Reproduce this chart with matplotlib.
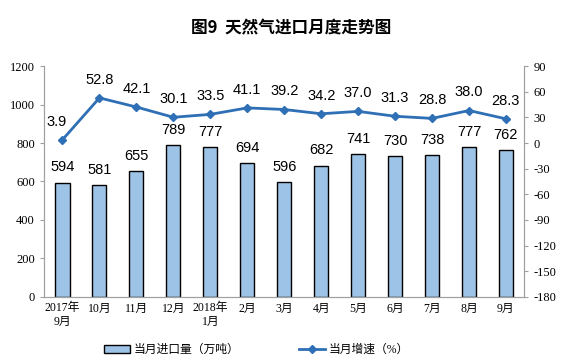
import matplotlib.pyplot as plt
import numpy as np

plt.rcParams['font.family'] = ['Liberation Serif', 'Noto Sans CJK SC', 'DejaVu Sans']
plt.rcParams['axes.unicode_minus'] = False

months = ['2017年\n9月', '10月', '11月', '12月', '2018年\n1月', '2月', '3月',
          '4月', '5月', '6月', '7月', '8月', '9月']
imports = [594, 581, 655, 789, 777, 694, 596, 682, 741, 730, 738, 777, 762]
growth = [3.9, 52.8, 42.1, 30.1, 33.5, 41.1, 39.2, 34.2, 37.0, 31.3, 28.8, 38.0, 28.3]

bar_col = '#9dc3e6'
line_col = '#2e6fb5'
spine_col = '#a0a0a0'
lab_font = ['Liberation Sans', 'Noto Sans CJK SC']

fig = plt.figure(figsize=(5.83, 3.63), dpi=100)
ax = fig.add_axes([0.0755, 0.182, 0.824, 0.636])
ax2 = ax.twinx()

x = np.arange(len(months))
bars = ax.bar(x, imports, width=0.38, color=bar_col, edgecolor='black', lw=1.0, zorder=2)
for xi, v in zip(x, imports):
    ax.annotate(f"{v}", (xi, v), xytext=(0, 6), textcoords='offset points',
                ha='center', va='bottom', fontsize=10.5, family=lab_font)

ln, = ax2.plot(x, growth, color=line_col, lw=2, marker='D', ms=4, zorder=3)
for xi, v in zip(x, growth):
    dx = -4 if xi == 0 else 0
    ax2.annotate(f"{v:.1f}", (xi, v), xytext=(dx, 8), textcoords='offset points',
                 ha='center', va='bottom', fontsize=10.5, family=lab_font)

ax.set_xlim(-0.5, len(months) - 0.5)
ax.set_ylim(0, 1200)
ax.set_yticks(range(0, 1201, 200))
ax2.set_ylim(-180, 90)
ax2.set_yticks(range(-180, 91, 30))
ax.set_xticks(x)
ax.set_xticklabels(months, fontsize=8.5)
ax.tick_params(axis='y', labelsize=9, length=3, color=spine_col)
ax.tick_params(axis='x', length=0, pad=4)
ax2.tick_params(axis='y', labelsize=9, length=3, color=spine_col)

for a in (ax, ax2):
    a.spines['top'].set_visible(False)
    for s in ('left', 'right', 'bottom'):
        a.spines[s].set_color(spine_col)

fig.text(0.5, 0.922, '图9  天然气进口月度走势图', ha='center', va='center',
         fontsize=12, fontweight='bold', family=['Noto Sans CJK SC'])

fig.legend([bars, ln], ['当月进口量（万吨）', '当月增速（%）'], loc='center',
           bbox_to_anchor=(0.44, 0.035), ncol=2, frameon=False, fontsize=8.5,
           columnspacing=5, handlelength=2.2, handleheight=0.6, handletextpad=0.3)

fig.savefig('out.png', dpi=100)
